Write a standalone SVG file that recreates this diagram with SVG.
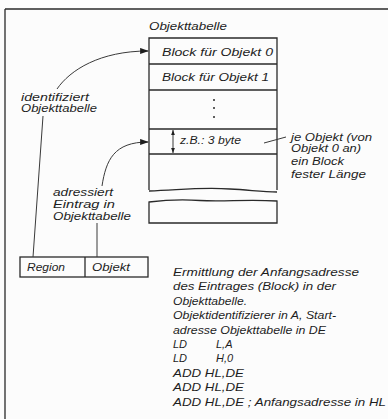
<svg xmlns="http://www.w3.org/2000/svg" width="388" height="419" viewBox="0 0 388 419">
<style>
.ln{fill:none;stroke:#2a2a2a;stroke-width:1.3}
.thin{fill:none;stroke:#3a3a3a;stroke-width:1}
text{font-family:"Liberation Sans","DejaVu Sans",sans-serif;font-style:italic;font-size:11px;fill:#1e1e1e}
</style>
<defs>
<marker id="ah" viewBox="0 0 10 8" refX="9" refY="4" markerWidth="9" markerHeight="7" markerUnits="userSpaceOnUse" orient="auto">
<path d="M0,0.5 L10,4 L0,7.5 Z" fill="#1e1e1e"/>
</marker>
<marker id="sa" viewBox="0 0 8 6" refX="8" refY="3" markerWidth="5" markerHeight="4" markerUnits="userSpaceOnUse" orient="auto-start-reverse">
<path d="M0,0 L8,3 L0,6 Z" fill="#1e1e1e"/>
</marker>
</defs>
<rect width="388" height="419" fill="#fcfcfc"/>
<g id="frame">
<path class="ln" d="M5,9 H388 M5,9 V419"/>
</g>
<g id="objekttabelle">
<text x="149" y="30" textLength="78" lengthAdjust="spacingAndGlyphs">Objekttabelle</text>
<path class="ln" d="M149,190 V38 H277 V190 M149,64 H277 M149,90 H277 M149,129 H277 M149,154 H277"/>
<path class="ln" d="M149,191 C180,190 200,187 230,189 C250,190 262,192 277,192"/>
<path class="ln" d="M149,202 C165,200 180,199 200,200.5 C225,202 245,199 277,201 V223 H149 Z"/>
<text x="162" y="56" textLength="111" lengthAdjust="spacingAndGlyphs">Block für Objekt 0</text>
<text x="162" y="81" textLength="107" lengthAdjust="spacingAndGlyphs">Block für Objekt 1</text>
<circle cx="214" cy="100" r="1" fill="#2a2a2a"/>
<circle cx="214" cy="108" r="1" fill="#2a2a2a"/>
<circle cx="214" cy="117" r="1" fill="#2a2a2a"/>
<path class="thin" d="M173,130 V153" marker-start="url(#sa)" marker-end="url(#sa)"/>
<text x="180" y="144" textLength="61" lengthAdjust="spacingAndGlyphs">z.B.: 3 byte</text>
</g>
<g id="kennung">
<rect class="ln" x="20" y="257" width="128" height="20"/>
<path class="ln" d="M85,257 V277"/>
<text x="27" y="271" textLength="38" lengthAdjust="spacingAndGlyphs">Region</text>
<text x="92" y="271" textLength="38" lengthAdjust="spacingAndGlyphs">Objekt</text>
</g>
<g id="label-identifiziert">
<text x="21" y="101" textLength="68" lengthAdjust="spacingAndGlyphs">identifiziert</text>
<text x="21" y="112" textLength="76" lengthAdjust="spacingAndGlyphs">Objekttabelle</text>
</g>
<g id="label-adressiert">
<text x="53" y="196" textLength="60" lengthAdjust="spacingAndGlyphs">adressiert</text>
<text x="53" y="208" textLength="62" lengthAdjust="spacingAndGlyphs">Eintrag  in</text>
<text x="53" y="220" textLength="78" lengthAdjust="spacingAndGlyphs">Objekttabelle</text>
</g>
<g id="label-block">
<text x="291" y="141" textLength="81" lengthAdjust="spacingAndGlyphs">je Objekt (von</text>
<text x="291" y="152" textLength="70" lengthAdjust="spacingAndGlyphs">Objekt 0 an)</text>
<text x="291" y="165" textLength="53" lengthAdjust="spacingAndGlyphs">ein  Block</text>
<text x="291" y="178" textLength="75" lengthAdjust="spacingAndGlyphs">fester  Länge</text>
</g>
<g id="beschreibung">
<text x="173" y="276" textLength="186" lengthAdjust="spacingAndGlyphs">Ermittlung  der  Anfangsadresse</text>
<text x="173" y="290" textLength="163" lengthAdjust="spacingAndGlyphs">des  Eintrages  (Block)  in  der</text>
<text x="173" y="305" textLength="74" lengthAdjust="spacingAndGlyphs">Objekttabelle.</text>
<text x="173" y="319" textLength="163" lengthAdjust="spacingAndGlyphs">Objektidentifizierer  in  A,  Start-</text>
<text x="173" y="334" textLength="153" lengthAdjust="spacingAndGlyphs">adresse  Objekttabelle  in  DE</text>
<text x="173" y="348">LD</text><text x="216" y="348">L,A</text>
<text x="173" y="362">LD</text><text x="216" y="362">H,0</text>
<text x="173" y="377" textLength="71" lengthAdjust="spacingAndGlyphs">ADD HL,DE</text>
<text x="173" y="391" textLength="71" lengthAdjust="spacingAndGlyphs">ADD HL,DE</text>
<text x="173" y="406" textLength="213" lengthAdjust="spacingAndGlyphs">ADD HL,DE ; Anfangsadresse in HL</text>
</g>
<g id="connectors">
<path class="thin" d="M57,89 C70,70 100,51 148,51" marker-end="url(#ah)"/>
<path class="thin" d="M102,186 C106,160 114,142 148,142" marker-end="url(#ah)"/>
<path class="thin" d="M43,116 L33,257"/>
<path class="thin" d="M97,223 V257"/>
<path class="thin" d="M264,143 L286,137"/>
</g>
</svg>
